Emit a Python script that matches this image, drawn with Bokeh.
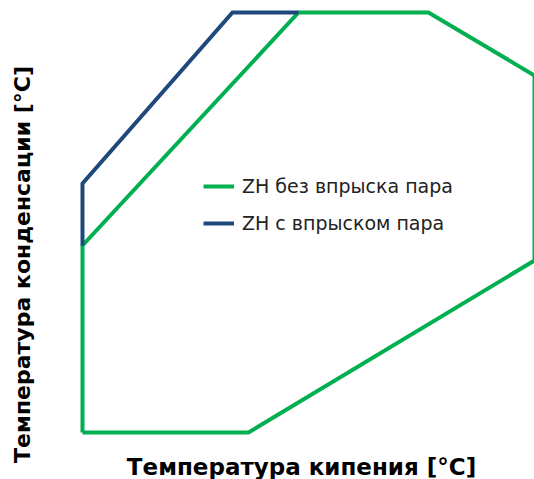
from bokeh.plotting import figure
from bokeh.models import Range1d, Label, Legend, LegendItem
from bokeh.embed import file_html
from bokeh.resources import INLINE

# Operating envelope (arbitrary units)
no_inj_boil = [0, 166, 452, 452, 346, 216, 0, 0]
no_inj_cond = [0, 0, 172, 357, 420, 420, 187, 0]
inj_boil = [0, 0, 150, 216]
inj_cond = [187, 249, 420, 420]

series_labels = ["ZH без впрыска пара", "ZH с впрыском пара"]
x_title = "Температура кипения [°C]"
y_title = "Температура конденсации [°C]"

GREEN = "#00B050"
BLUE = "#1F497D"

p = figure(width=534, height=479, output_backend="svg", toolbar_location=None,
           x_range=Range1d(-82, 452), y_range=Range1d(-47, 432),
           min_border=0, min_border_left=0, min_border_right=0,
           min_border_top=0, min_border_bottom=0)
p.xaxis.visible = False
p.yaxis.visible = False
p.xgrid.visible = False
p.ygrid.visible = False
p.outline_line_color = None
p.background_fill_color = "white"
p.border_fill_color = "white"

r1 = p.line(no_inj_boil, no_inj_cond, line_color=GREEN, line_width=4, line_join="miter")
r2 = p.line(inj_boil, inj_cond, line_color=BLUE, line_width=4, line_join="miter")

legend = Legend(items=[LegendItem(label=series_labels[0], renderers=[r1]),
                       LegendItem(label=series_labels[1], renderers=[r2])],
                location=(203, 245), orientation="vertical",
                background_fill_alpha=0, border_line_color=None,
                label_text_font="DejaVu Sans", label_text_font_size="19px",
                label_text_color="#222222",
                glyph_width=31, glyph_height=20, label_height=20,
                label_standoff=8, spacing=15, padding=0, margin=0)
p.add_layout(legend)

p.add_layout(Label(x=219, y=-34, text=x_title, text_align="center",
                   text_baseline="middle", text_font="DejaVu Sans",
                   text_font_style="bold", text_font_size="23px", text_color="black"))
p.add_layout(Label(x=-60, y=168, text=y_title, text_align="center",
                   text_baseline="middle", angle=1.5708, text_font="DejaVu Sans",
                   text_font_style="bold", text_font_size="22px", text_color="black"))

open("out.html", "w").write(file_html(p, INLINE))
